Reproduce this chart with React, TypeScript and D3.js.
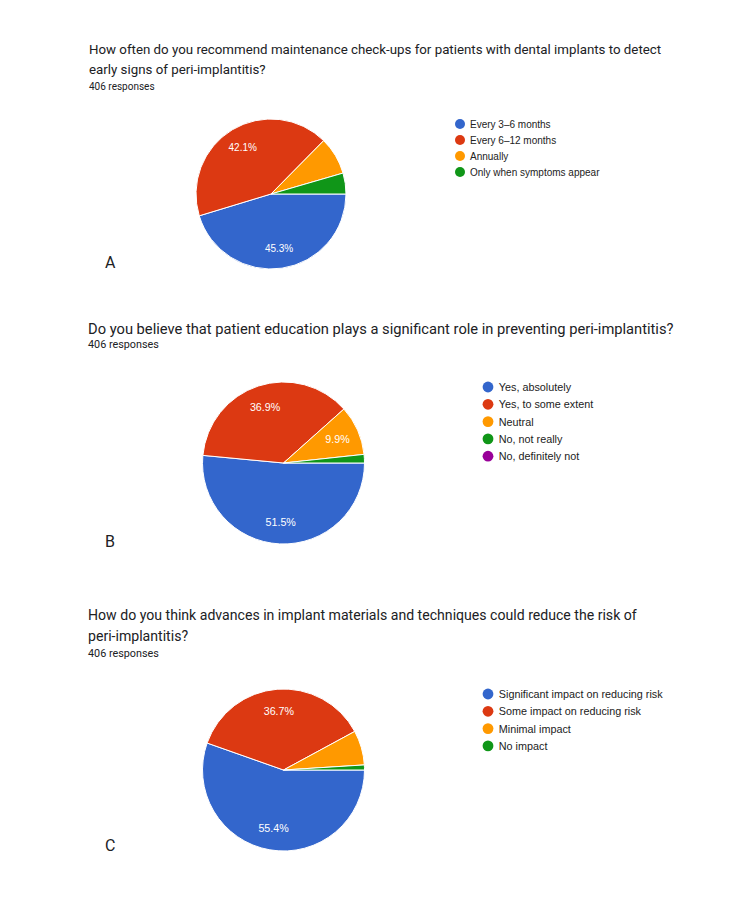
import React from "react";
import * as d3 from "d3";

const colors = ["#3366cc", "#dc3912", "#ff9900", "#109618", "#990099"];

const titleA = [
  "How often do you recommend maintenance check-ups for patients with dental implants to detect",
  "early signs of peri-implantitis?",
];
const categoriesA = ["Every 3–6 months", "Every 6–12 months", "Annually", "Only when symptoms appear"];
const valuesA = [45.3, 42.1, 8.1, 4.5];

const titleB = [
  "Do you believe that patient education plays a significant role in preventing peri-implantitis?",
];
const categoriesB = ["Yes, absolutely", "Yes, to some extent", "Neutral", "No, not really", "No, definitely not"];
const valuesB = [51.5, 36.9, 9.9, 1.7, 0];

const titleC = [
  "How do you think advances in implant materials and techniques could reduce the risk of",
  "peri-implantitis?",
];
const categoriesC = [
  "Significant impact on reducing risk",
  "Some impact on reducing risk",
  "Minimal impact",
  "No impact",
];
const valuesC = [55.4, 36.7, 6.9, 1.0];

const responsesText = "406 responses";
const panelLetters = ["A", "B", "C"];

type PanelProps = {
  title: string[];
  categories: string[];
  values: number[];
  letter: string;
  titleX: number;
  titleY: number;
  titleStep: number;
  titleFont: number;
  respFont: number;
  respY: number;
  cx: number;
  cy: number;
  r: number;
  legX: number;
  legY: number;
  legStep: number;
  legFont: number;
  labelFont: number;
  letterX: number;
  letterY: number;
};

function Panel(p: PanelProps) {
  const pie = d3
    .pie<number>()
    .sort(null)
    .value((d) => d)
    .startAngle(Math.PI / 2)
    .endAngle(Math.PI / 2 + 2 * Math.PI);
  const arcs = pie(p.values);
  const arc = d3.arc<d3.PieArcDatum<number>>().innerRadius(0).outerRadius(p.r);
  const labelArc = d3
    .arc<d3.PieArcDatum<number>>()
    .innerRadius(p.r * 0.73)
    .outerRadius(p.r * 0.73);
  return (
    <g>
      {p.title.map((t, i) => (
        <text
          key={i}
          x={p.titleX}
          y={p.titleY + i * p.titleStep}
          fontFamily="Roboto"
          fontSize={p.titleFont}
          fill="#202124"
        >
          {t}
        </text>
      ))}
      <text x={p.titleX} y={p.respY} fontFamily="Roboto" fontSize={p.respFont} fill="#202124">
        {responsesText}
      </text>
      <g transform={`translate(${p.cx},${p.cy})`}>
        {arcs.map((a, i) =>
          a.value > 0 ? (
            <path key={i} d={arc(a) || ""} fill={colors[i]} stroke="#ffffff" strokeWidth={1} />
          ) : null
        )}
        {arcs.map((a, i) => {
          if (a.value < 9) return null;
          const [x, y] = labelArc.centroid(a);
          return (
            <text
              key={"l" + i}
              x={x}
              y={y}
              textAnchor="middle"
              dominantBaseline="central"
              fontFamily="Liberation Sans, Arial"
              fontSize={p.labelFont}
              fill="#ffffff"
            >
              {a.value.toFixed(1) + "%"}
            </text>
          );
        })}
      </g>
      {p.categories.map((c, i) => (
        <g key={c} transform={`translate(${p.legX},${p.legY + i * p.legStep})`}>
          <circle r={p.legFont * 0.5} fill={colors[i]} />
          <text
            x={p.legFont * 1.0}
            y={0}
            dominantBaseline="central"
            fontFamily="Liberation Sans, Arial"
            fontSize={p.legFont}
            fill="#222222"
          >
            {c}
          </text>
        </g>
      ))}
      <text x={p.letterX} y={p.letterY} fontFamily="Roboto" fontSize={16} fill="#202124">
        {p.letter}
      </text>
    </g>
  );
}

export default function App() {
  return (
    <svg
      width={750}
      height={900}
      style={{ position: "absolute", left: 0, top: 0, background: "#ffffff" }}
    >
      <rect width={750} height={900} fill="#ffffff" />
      <Panel
        title={titleA}
        categories={categoriesA}
        values={valuesA}
        letter={panelLetters[0]}
        titleX={89}
        titleY={54}
        titleStep={20}
        titleFont={13.3}
        respFont={10}
        respY={90}
        cx={271}
        cy={194}
        r={75}
        legX={460}
        legY={124}
        legStep={16}
        legFont={10}
        labelFont={10}
        letterX={105}
        letterY={268}
      />
      <Panel
        title={titleB}
        categories={categoriesB}
        values={valuesB}
        letter={panelLetters[1]}
        titleX={88}
        titleY={334}
        titleStep={20}
        titleFont={14.7}
        respFont={10.8}
        respY={348}
        cx={283.5}
        cy={463}
        r={81}
        legX={488}
        legY={387}
        legStep={17.3}
        legFont={10.8}
        labelFont={10.7}
        letterX={105}
        letterY={547}
      />
      <Panel
        title={titleC}
        categories={categoriesC}
        values={valuesC}
        letter={panelLetters[2]}
        titleX={88}
        titleY={620}
        titleStep={20.5}
        titleFont={14.1}
        respFont={10.8}
        respY={657}
        cx={283.5}
        cy={770}
        r={81}
        legX={488}
        legY={694}
        legStep={17.3}
        legFont={10.8}
        labelFont={10.7}
        letterX={105}
        letterY={851}
      />
    </svg>
  );
}
